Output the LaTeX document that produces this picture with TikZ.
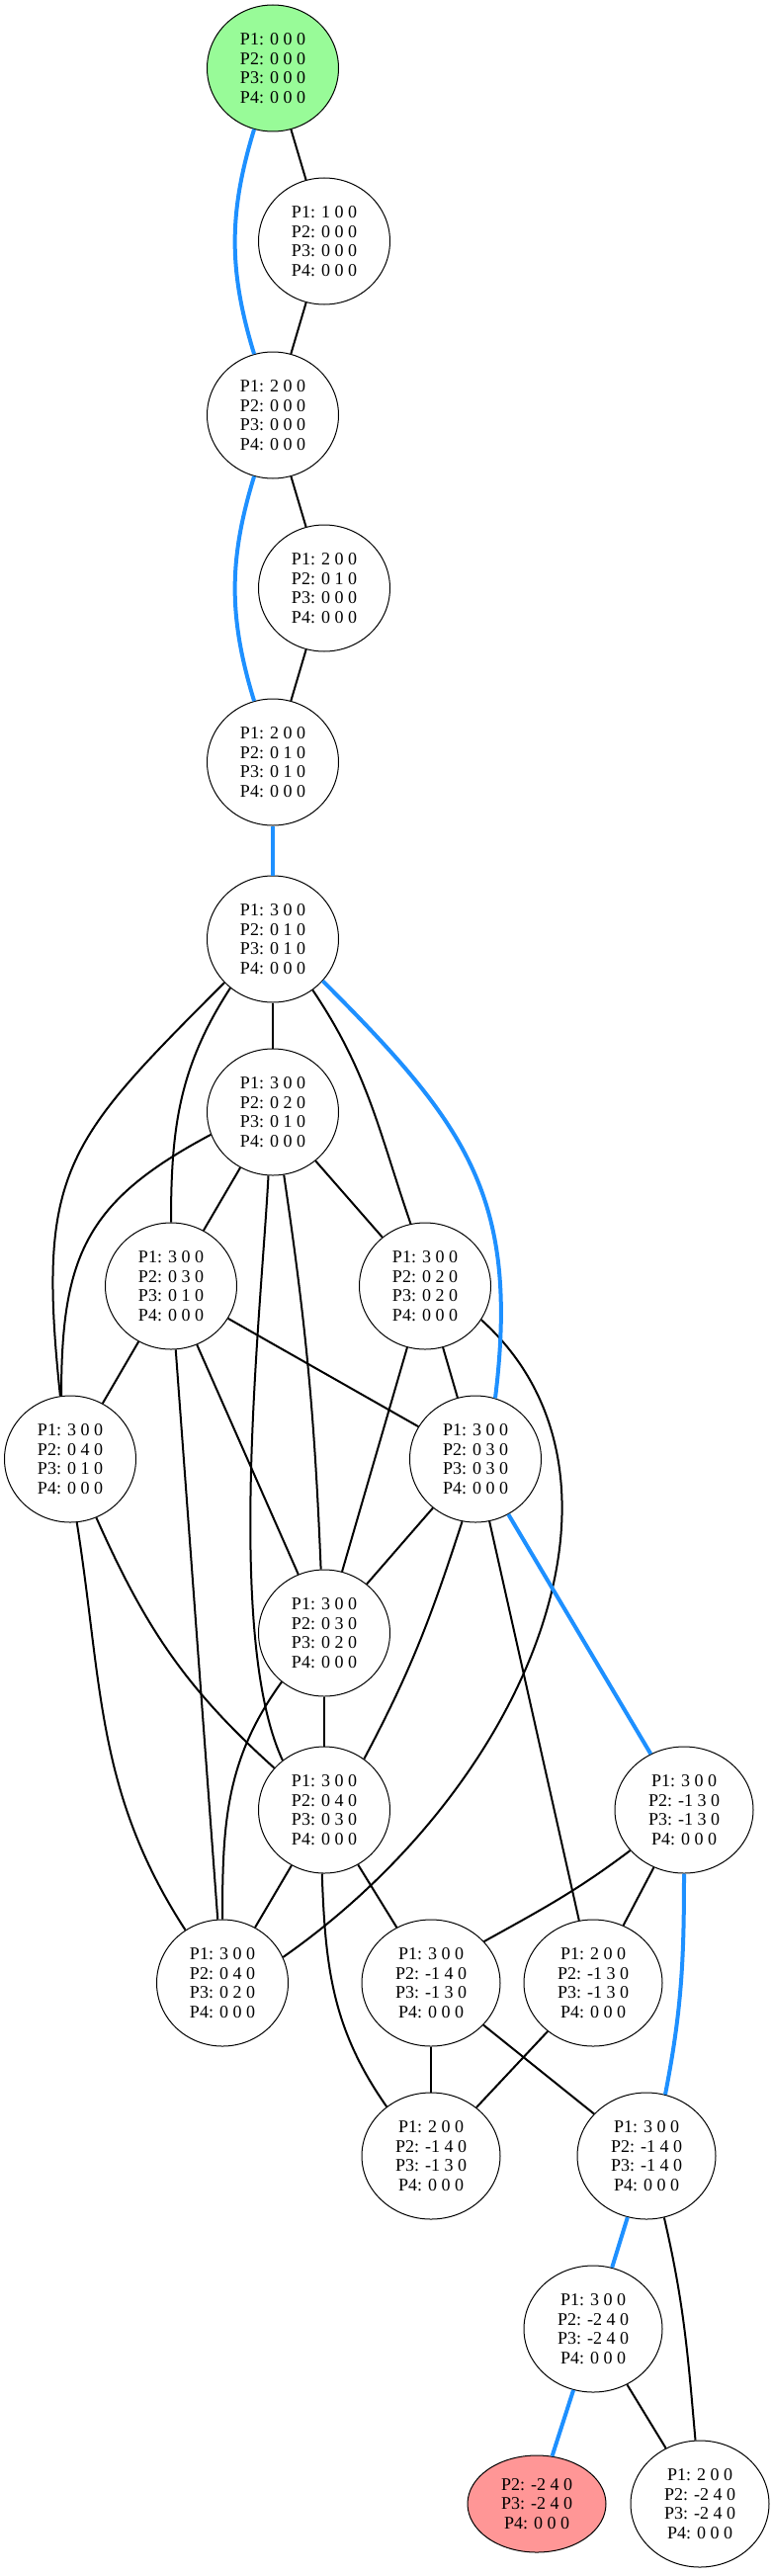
\documentclass[tikz,border=0pt]{standalone}
\usepackage{fontspec}
\setmainfont{Liberation Serif}
\usepackage{xcolor}
\usetikzlibrary{shapes.geometric}
\definecolor{startgreen}{RGB}{152,251,152}
\definecolor{goalred}{RGB}{255,150,150}
\definecolor{routeblue}{RGB}{30,144,255}

\begin{document}
\begin{tikzpicture}[x=1pt, y=1pt,
    state/.style={ellipse, draw, line width=1pt, minimum width=133pt, minimum height=128pt, inner sep=0pt, align=center, font=\fontsize{18}{19.5}\selectfont},
    wide/.style={state, minimum width=140pt},
    edge/.style={line width=2pt},
    route/.style={line width=4pt, routeblue}]
    \useasboundingbox (0,0) rectangle (780,-2606);

    % States, top to bottom
    \node[state, fill=startgreen] (s0) at (276,-69) {P1: 0 0 0\\P2: 0 0 0\\P3: 0 0 0\\P4: 0 0 0};
    \node[state] (s1) at (328,-244) {P1: 1 0 0\\P2: 0 0 0\\P3: 0 0 0\\P4: 0 0 0};
    \node[state] (s2) at (276,-420) {P1: 2 0 0\\P2: 0 0 0\\P3: 0 0 0\\P4: 0 0 0};
    \node[state] (s3) at (328,-595) {P1: 2 0 0\\P2: 0 1 0\\P3: 0 0 0\\P4: 0 0 0};
    \node[state] (s4) at (276,-771) {P1: 2 0 0\\P2: 0 1 0\\P3: 0 1 0\\P4: 0 0 0};
    \node[state] (s5) at (276,-950) {P1: 3 0 0\\P2: 0 1 0\\P3: 0 1 0\\P4: 0 0 0};
    \node[state] (s6) at (276,-1125) {P1: 3 0 0\\P2: 0 2 0\\P3: 0 1 0\\P4: 0 0 0};
    \node[state] (s7) at (173,-1301) {P1: 3 0 0\\P2: 0 3 0\\P3: 0 1 0\\P4: 0 0 0};
    \node[state] (s8) at (430,-1301) {P1: 3 0 0\\P2: 0 2 0\\P3: 0 2 0\\P4: 0 0 0};
    \node[state] (s9) at (71,-1476) {P1: 3 0 0\\P2: 0 4 0\\P3: 0 1 0\\P4: 0 0 0};
    \node[state] (s10) at (481,-1476) {P1: 3 0 0\\P2: 0 3 0\\P3: 0 3 0\\P4: 0 0 0};
    \node[state] (s11) at (328,-1652) {P1: 3 0 0\\P2: 0 3 0\\P3: 0 2 0\\P4: 0 0 0};
    \node[state] (s12) at (328,-1831) {P1: 3 0 0\\P2: 0 4 0\\P3: 0 3 0\\P4: 0 0 0};
    \node[wide] (s13) at (692,-1831) {P1: 3 0 0\\P2: -1 3 0\\P3: -1 3 0\\P4: 0 0 0};
    \node[state] (s14) at (225,-2006) {P1: 3 0 0\\P2: 0 4 0\\P3: 0 2 0\\P4: 0 0 0};
    \node[wide] (s15) at (436,-2006) {P1: 3 0 0\\P2: -1 4 0\\P3: -1 3 0\\P4: 0 0 0};
    \node[wide] (s16) at (600,-2006) {P1: 2 0 0\\P2: -1 3 0\\P3: -1 3 0\\P4: 0 0 0};
    \node[wide] (s17) at (436,-2181) {P1: 2 0 0\\P2: -1 4 0\\P3: -1 3 0\\P4: 0 0 0};
    \node[wide] (s18) at (654,-2181) {P1: 3 0 0\\P2: -1 4 0\\P3: -1 4 0\\P4: 0 0 0};
    \node[wide] (s19) at (600,-2356) {P1: 3 0 0\\P2: -2 4 0\\P3: -2 4 0\\P4: 0 0 0};
    \node[wide, minimum height=98pt, fill=goalred] (s20) at (543,-2533) {P2: -2 4 0\\P3: -2 4 0\\P4: 0 0 0};
    \node[wide] (s21) at (708,-2533) {P1: 2 0 0\\P2: -2 4 0\\P3: -2 4 0\\P4: 0 0 0};

    % Straight moves
    \foreach \a/\b in {s0/s1, s1/s2, s2/s3, s3/s4, s5/s6, s6/s7, s6/s8, s7/s9, s7/s10, s7/s11, s7/s14, s8/s10, s8/s11, s10/s11, s10/s16, s11/s12, s12/s14, s12/s15, s13/s16, s15/s17, s15/s18, s16/s17, s19/s21}
        \draw[edge] (\a) -- (\b);

    % Curved moves
    \draw[edge] (s5.229) to[out=237, in=90] (s7.90);
    \draw[edge] (s5.308) to[out=-56, in=109] (s8.103);
    \draw[edge] (s5.222) to[out=225, in=96, looseness=1.3] (s9.99);
    \draw[edge] (s6.200) to[out=208, in=90, looseness=1.2] (s9.98);
    \draw[edge] (s6.280) to[bend left=3] (s11.93);
    \draw[edge] (s6.266) to[out=-93, in=115, looseness=0.6] (s12.130);
    \draw[edge] (s8.-31) to[out=-42, in=35, out looseness=0.9, in looseness=1.15] (s14.23);
    \draw[edge] (s9.-66) to[out=-66, in=138] (s12.140);
    \draw[edge] (s9.-84) to[out=-81, in=123] (s14.125);
    \draw[edge] (s10.258) to[out=-108, in=62] (s12.52);
    \draw[edge] (s11.229) to[out=234, in=90] (s14.90);
    \draw[edge] (s12.268) to[out=-88, in=125] (s17.132);
    \draw[edge] (s13.217) to[out=217, in=29] (s15.38);
    \draw[edge] (s18.-74) to[out=-77, in=95] (s21.94);

    % Shortest route
    \foreach \a/\b in {s4/s5, s10/s13, s18/s19, s19/s20}
        \draw[route] (\a) -- (\b);
    \draw[route] (s0) to[bend right=17] (s2);
    \draw[route] (s2) to[bend right=17] (s4);
    \draw[route] (s5.320) to[out=-45, in=83, looseness=1.15] (s10.72);
    \draw[route] (s13.270) to[out=-90, in=79] (s18.73);
\end{tikzpicture}
\end{document}
